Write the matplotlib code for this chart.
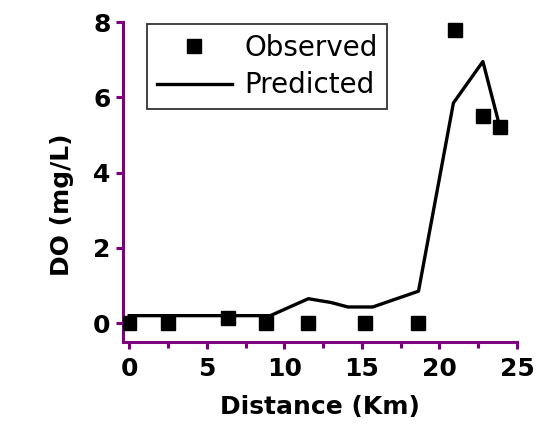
import matplotlib
matplotlib.use("Agg")
import matplotlib.pyplot as plt
from matplotlib.ticker import MultipleLocator

obs_x = [0.0, 2.5, 6.4, 8.8, 11.5, 15.2, 18.6, 21.0, 22.8, 23.9]
obs_y = [0.0, 0.0, 0.13, 0.0, 0.0, 0.0, 0.0, 7.8, 5.5, 5.2]

pred_x = [0.0, 9.1, 11.55, 13.0, 14.1, 15.7, 18.65, 20.9, 22.8, 23.9]
pred_y = [0.2, 0.2, 0.65, 0.55, 0.43, 0.43, 0.85, 5.85, 6.95, 5.2]

xticks = [0, 5, 10, 15, 20, 25]
yticks = [0, 2, 4, 6, 8]

purple = "#7f007f"
plt.rcParams['font.family'] = ['DejaVu Sans']

fig = plt.figure(figsize=(5.38, 4.29), dpi=100)
ax = fig.add_axes([0.2286, 0.2028, 0.961 - 0.2286, 0.9487 - 0.2028])

ax.plot(pred_x, pred_y, color='black', lw=2.4, label='Predicted', zorder=2)
ax.plot(obs_x, obs_y, linestyle='none', marker='s', ms=10, color='black',
        label='Observed', zorder=3)

ax.set_xlim(-0.4, 25)
ax.set_ylim(-0.5, 8)
ax.set_xticks(xticks)
ax.set_yticks(yticks)
ax.xaxis.set_minor_locator(MultipleLocator(2.5))

for s in ['top', 'right']:
    ax.spines[s].set_visible(False)
for s in ['left', 'bottom']:
    ax.spines[s].set_color(purple)
    ax.spines[s].set_linewidth(2.2)
ax.tick_params(axis='both', which='both', color=purple, width=2.2, length=5,
               direction='out', labelsize=18, pad=4)
ax.tick_params(axis='x', which='major', pad=6)
for lab in ax.get_xticklabels() + ax.get_yticklabels():
    lab.set_fontweight('bold')
ax.tick_params(axis='x', which='minor', length=4)

ax.set_xlabel('Distance (Km)', fontsize=18, fontweight='bold', labelpad=10)
ax.set_ylabel('DO (mg/L)', fontsize=18, fontweight='bold')
ax.yaxis.set_label_coords(-0.155, 0.43)
ax.yaxis.label.set_verticalalignment('center')

h, l = ax.get_legend_handles_labels()
leg = ax.legend(h[::-1], l[::-1], loc='upper left',
                bbox_to_anchor=(147 / 538, 1 - 24 / 429),
                bbox_transform=fig.transFigure, borderaxespad=0,
                fontsize=20, frameon=True, fancybox=False, edgecolor='black',
                handlelength=2.7, borderpad=0.35, labelspacing=0.35,
                handletextpad=0.45)
leg.get_frame().set_linewidth(1.3)

fig.savefig('out.png', dpi=100)
